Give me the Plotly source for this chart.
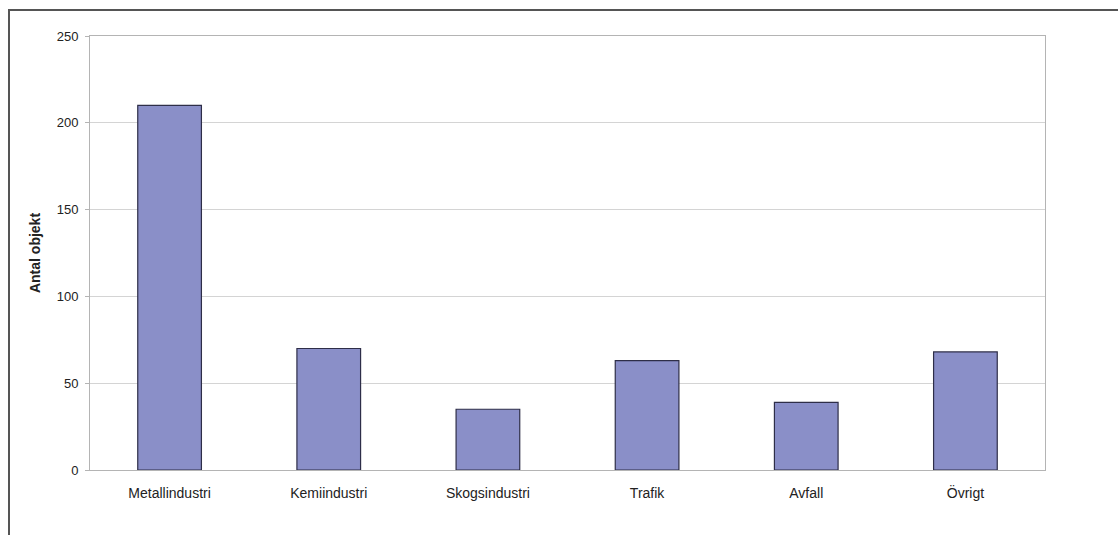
import plotly.graph_objects as go

categories = ["Metallindustri", "Kemiindustri", "Skogsindustri", "Trafik", "Avfall", "Övrigt"]
values = [210, 70, 35, 63, 39, 68]
y_ticks = [0, 50, 100, 150, 200, 250]

W, H = 1118, 535
L, R, T, B = 90, 1045, 36, 470

def px_x(px):
    return (px - L) / (R - L)

def px_y(py):
    return (B - py) / (B - T)

fig = go.Figure(go.Bar(
    x=categories, y=values,
    marker=dict(color="#8a8fc8", line=dict(color="#2e2e48", width=1.2)),
    width=0.4,
))

fig.update_layout(
    width=W, height=H,
    margin=dict(l=L, r=W - R, t=T, b=H - B),
    paper_bgcolor="white", plot_bgcolor="white",
    font=dict(family="Liberation Sans, Arial, sans-serif", size=12, color="#222"),
    showlegend=False,
    shapes=[dict(type="rect", xref="paper", yref="paper",
                 x0=px_x(9), x1=px_x(1140), y0=px_y(560), y1=px_y(10),
                 line=dict(color="#555555", width=2), fillcolor="rgba(0,0,0,0)", layer="below")],
)
fig.update_xaxes(
    showline=True, linecolor="#b4b4b4", linewidth=1, mirror=True,
    ticks="", tickfont=dict(size=14, color="#222"), showgrid=False,
    ticklabelstandoff=10,
)
fig.update_yaxes(
    range=[0, 250], tickvals=y_ticks, showgrid=True, gridcolor="#d4d4d4", gridwidth=1,
    showline=True, linecolor="#b4b4b4", linewidth=1, mirror=True,
    ticks="outside", ticklen=4, tickcolor="#b4b4b4", zeroline=False,
    tickfont=dict(size=13, color="#222"), ticklabelstandoff=4,
    title=dict(text="<b>Antal objekt</b>", font=dict(size=14, color="#222"), standoff=12),
)
fig.write_html("out.html")
